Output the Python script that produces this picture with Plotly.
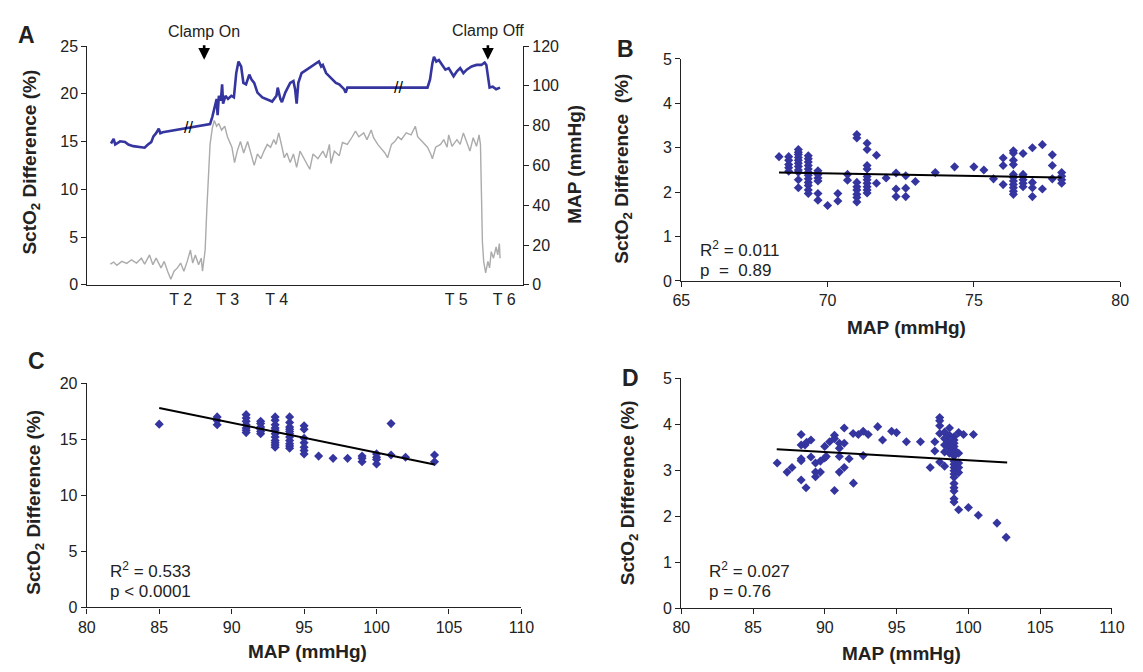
import plotly.graph_objects as go

# ---------------- Panel A data (time index, arbitrary units) ----------------
t_map = [24, 26.7, 28.3, 33.3, 38.3, 41.7, 46.7, 53.3, 58.3, 61.7, 65, 67.3, 70, 72.7, 74.3, 76.7,
         125, 127.3, 130, 131.7, 132.7, 134, 136, 137.3, 138.3, 140.7, 143.3, 146.7, 149.3, 151.7,
         154, 156.7, 159, 161.7, 165, 167.3, 170, 173.3, 178.3, 183.3, 188.3, 192.7, 194, 196.7,
         198.3, 201.7, 206.7, 210, 211.7, 213.3, 215, 218.3, 223.3, 228.3, 233.3, 236, 238.3, 240,
         243.3, 246.7, 250, 253.3, 256.7, 260, 261.7, 263.3, 265,
         346.7, 349.3, 351.7, 353.3, 355.7, 358.3, 361.7, 365, 368.3, 373.3, 376.7, 380, 383.3,
         386.7, 391.7, 396.7, 401.7, 405, 406.7, 410, 413.3, 416.7, 420.7]
map_vals = [71.0, 73.3, 70.5, 72.1, 71.8, 70.5, 69.7, 69.4, 68.9, 70.5, 71.7, 74.6, 76.2, 78.4, 76.2, 76.7,
            80.8, 84.4, 89.3, 93.4, 85.2, 95.0, 92.6, 100.7, 91.0, 95.0, 93.4, 95.0, 94.2, 106.4,
            112.2, 109.7, 101.5, 100.7, 105.6, 103.2, 101.5, 96.6, 94.2, 93.1, 92.1, 95.0, 99.1, 93.4,
            91.8, 96.6, 101.5, 102.4, 98.3, 91.0, 101.5, 106.4, 108.1, 109.7, 111.7, 112.2, 109.7, 110.5,
            106.4, 104.8, 103.2, 101.5, 100.7, 99.1, 98.3, 96.6, 99.1,
            99.1, 103.2, 111.3, 114.6, 112.2, 113.0, 110.5, 108.1, 108.9, 104.8, 107.3, 108.9, 106.4,
            108.1, 109.7, 110.5, 110.5, 111.7, 110.5, 99.1, 99.6, 98.3, 99.1]

t_sct = [23.3, 26.7, 30, 35, 40, 45, 50, 55, 58.3, 63.3, 66.7, 70, 75, 78.3, 81.7, 85, 88.3, 91.7, 95,
         98.3, 101.7, 105, 107.3, 110, 113.3, 116, 117.3, 120, 121.7, 123.3, 125, 127.3, 129.3, 131.7,
         134, 136.7, 140, 142.7, 145, 147.3, 150, 152.7, 156, 159.3, 163.3, 166.7, 170, 173.3, 176.7,
         180, 183.3, 186.7, 190, 192.3, 195, 197.3, 200.7, 203.3, 206.7, 210, 213.3, 216.7, 221.7,
         226.7, 230, 235, 240, 243.3, 246.7, 248.3, 251.7, 256.7, 260, 265, 270, 273.3, 276.7, 281.7,
         285, 289.3, 291.7, 296, 300, 303.3, 306, 310, 313.3, 316.7, 320, 325, 330, 334.3, 336.7,
         341.7, 346.7, 350, 351.7, 355, 360, 363.3, 366.7, 368.3, 371.7, 376.7, 380, 383.3, 386.7,
         390, 393.3, 396.7, 399.3, 400.7, 401.7, 402.7, 404, 406, 408.3, 410, 411.7, 414, 416.7,
         418.3, 420, 420.7]
sct_vals = [2.17, 2.38, 2.04, 2.45, 2.24, 2.62, 2.28, 2.79, 2.17, 3.13, 2.11, 2.79, 1.77, 2.45, 1.43, 0.58,
            1.43, 1.77, 2.28, 1.43, 2.45, 3.64, 2.28, 3.13, 2.11, 2.79, 1.43, 3.64, 7.9, 11.3, 14.7, 16.4,
            17.2, 16.6, 16.9, 16.2, 16.6, 15.5, 14.9, 14.4, 12.8, 14.0, 15.0, 13.8, 15.0, 13.7, 12.5,
            13.7, 13.2, 14.0, 14.7, 14.4, 15.2, 14.7, 15.9, 14.9, 13.3, 13.8, 12.8, 13.7, 12.3, 14.0,
            13.0, 12.1, 13.7, 13.2, 14.0, 13.3, 14.7, 12.7, 14.0, 13.5, 14.9, 14.7, 15.5, 16.1, 15.5,
            15.9, 15.2, 16.2, 15.4, 14.7, 14.2, 13.8, 13.3, 14.7, 15.0, 15.5, 15.2, 15.9, 15.7, 16.6,
            15.5, 14.9, 14.4, 13.7, 13.2, 14.4, 14.7, 15.2, 14.4, 15.7, 14.5, 15.2, 14.7, 15.9, 14.9,
            14.0, 15.4, 14.5, 15.7, 14.7, 9.6, 4.5, 2.45, 1.26, 2.45, 1.77, 3.47, 2.79, 3.98, 3.13,
            4.32, 2.79]

t_tickvals = [95, 143, 193, 376, 425]
t_ticktext = ["T 2", "T 3", "T 4", "T 5", "T 6"]
clamp_t = [119, 408.3]
clamp_text = ["Clamp On", "Clamp Off"]
break_t = [103.3, 316.7]
break_map = [79.0, 99.1]

# ---------------- Panel B ----------------
b_map = [68.34,
         68.67, 68.67, 68.67, 68.67, 68.67,
         69.0, 69.0, 69.0, 69.0, 69.0, 69.0, 69.0, 69.0, 69.0, 69.0, 69.0,
         69.34, 69.34, 69.34, 69.34, 69.34, 69.34, 69.34, 69.34, 69.34, 69.34, 69.34, 69.34,
         69.67, 69.67, 69.67, 69.67, 69.67, 69.67,
         70.0, 70.35, 70.35, 70.68, 70.68,
         71.0, 71.0, 71.0, 71.0, 71.0, 71.0, 71.0, 71.0,
         71.35, 71.35, 71.35, 71.35, 71.35, 71.35, 71.35, 71.35, 71.35, 71.35,
         71.67, 71.67, 72.0, 72.34, 72.34, 72.34, 72.67, 72.67, 72.67,
         73.0, 73.68, 74.34, 75.0, 75.34, 75.67,
         76.0, 76.0, 76.0,
         76.35, 76.35, 76.35, 76.35, 76.35, 76.35, 76.35, 76.35, 76.35, 76.35, 76.35,
         76.68, 76.68, 76.68, 76.68, 76.68, 76.68,
         77.0, 77.0, 77.0, 77.0, 77.34, 77.34, 77.68, 77.68, 77.68,
         78.0, 78.0, 78.0, 78.0]
b_sct = [2.80,
         2.80, 2.72, 2.62, 2.55, 2.47,
         2.96, 2.90, 2.85, 2.78, 2.72, 2.65, 2.58, 2.50, 2.45, 2.28, 2.10,
         2.82, 2.75, 2.68, 2.60, 2.52, 2.45, 2.38, 2.30, 2.22, 2.15, 2.05, 1.97,
         2.48, 2.40, 2.32, 2.25, 1.97, 1.82,
         1.70, 1.97, 1.80, 2.40, 2.27,
         3.30, 3.22, 2.22, 2.12, 2.05, 1.95, 1.88, 1.78,
         3.10, 2.96, 2.60, 2.52, 2.35, 2.28, 2.20, 2.12, 2.05, 1.98,
         2.83, 2.20, 2.32, 2.43, 2.07, 1.90, 2.37, 2.09, 1.90,
         2.24, 2.44, 2.57, 2.57, 2.50, 2.30,
         2.77, 2.60, 2.17,
         2.93, 2.88, 2.72, 2.62, 2.40, 2.33, 2.25, 2.17, 2.10, 2.02, 1.95,
         2.87, 2.40, 2.35, 2.28, 2.20, 2.12,
         3.00, 2.22, 2.10, 1.90, 3.07, 2.07, 2.84, 2.60, 2.30,
         2.44, 2.36, 2.28, 2.20]
b_fit_x = [68.34, 78.0]
b_fit_y = [2.44, 2.33]

# ---------------- Panel C ----------------
c_map = [85,
         89, 89, 89,
         91, 91, 91, 91, 91, 91, 91,
         92, 92, 92, 92, 92, 92,
         93, 93, 93, 93, 93, 93, 93, 93, 93, 93, 93,
         94, 94, 94, 94, 94, 94, 94, 94, 94, 94, 94,
         95, 95, 95, 95, 95, 95, 95,
         96, 97, 98, 99, 99, 99, 100, 100, 100, 100, 101, 101, 102, 104, 104]
c_sct = [16.35,
         17.0, 16.67, 16.3,
         17.2, 16.9, 16.6, 16.3, 16.0, 15.8, 15.6,
         16.6, 16.4, 16.1, 15.9, 15.7, 15.5,
         17.0, 16.7, 16.3, 16.0, 15.8, 15.5, 15.2, 14.9, 14.7, 14.5, 14.3,
         17.0, 16.5, 16.1, 15.9, 15.7, 15.5, 15.2, 14.9, 14.6, 14.4, 14.2,
         16.2, 15.9, 15.1, 14.7, 14.3, 14.0, 13.7,
         13.5, 13.3, 13.3, 13.5, 13.3, 13.0, 13.7, 13.4, 13.2, 12.8, 16.4, 13.6, 13.4, 13.6, 13.0]
c_fit_x = [85, 104]
c_fit_y = [17.8, 12.75]

# ---------------- Panel D ----------------
d_map = [86.68, 87.37, 87.71, 88.35, 88.35, 88.62, 88.73, 89.03, 88.35, 88.35, 89.03, 88.35, 88.69,
         89.35, 89.35, 89.35, 89.69, 89.69, 89.99, 89.99, 90.33, 90.67, 90.67, 90.1, 91.01, 91.01,
         91.01, 91.35, 91.69, 91.35, 91.01, 90.67, 91.35, 91.99, 91.97, 92.33, 92.67, 93.02, 92.67,
         93.68, 94.02, 94.65, 94.99, 95.68, 96.66, 97.34, 97.66, 97.66, 98.0, 98.0, 98.0, 98.0, 98.0,
         98.34, 98.34, 98.68, 98.34, 98.34, 98.34, 98.68, 98.68, 98.68, 98.68,
         99.0, 99.0, 99.0, 99.0, 99.0, 99.0, 99.0, 99.0, 99.0, 99.0, 99.0, 99.0, 99.0, 99.0, 99.0,
         99.0, 99.0, 99.0,
         99.32, 99.32, 99.32, 99.32, 99.32, 99.32, 99.66, 100.0, 100.35, 100.69, 101.99, 102.63]
d_sct = [3.16, 2.96, 3.06, 3.78, 3.55, 3.55, 3.61, 3.66, 3.25, 3.21, 3.29, 2.79, 2.62,
         3.16, 2.96, 2.86, 2.96, 3.20, 3.27, 3.52, 3.62, 3.76, 3.69, 3.30, 3.59, 3.48,
         3.30, 3.59, 3.25, 3.06, 2.96, 2.56, 3.92, 2.72, 3.80, 3.78, 3.85, 3.78, 3.32,
         3.95, 3.66, 3.85, 3.82, 3.62, 3.62, 3.06, 3.62, 3.42, 4.15, 4.08, 3.97, 3.80, 3.18,
         3.09, 3.83, 3.92, 3.69, 3.55, 3.40, 3.76, 3.62, 3.48, 3.37,
         3.73, 3.66, 3.59, 3.52, 3.45, 3.38, 3.31, 3.20, 3.13, 3.06, 2.99, 2.92, 2.85, 2.71, 2.62,
         2.55, 2.38, 2.31,
         3.82, 3.37, 3.16, 3.06, 2.95, 2.14, 3.78, 2.19, 3.78, 2.02, 1.85, 1.54]
d_fit_x = [86.65, 102.7]
d_fit_y = [3.46, 3.17]

# ---------------- figure ----------------
W, H = 1143, 672
FONT = "Liberation Sans, Arial, Helvetica, sans-serif"
INK = "#222222"
BLUE = "#35359f"
GRAY = "#ababab"


def px(x):
    return x / W


def py(y):
    return 1 - y / H


fig = go.Figure()

fig.add_trace(go.Scatter(x=t_sct, y=sct_vals, mode="lines", line=dict(color=GRAY, width=1.4),
                         xaxis="x", yaxis="y", showlegend=False))
fig.add_trace(go.Scatter(x=t_map, y=map_vals, mode="lines", line=dict(color=BLUE, width=2.6),
                         xaxis="x", yaxis="y2", showlegend=False))

marker = dict(symbol="diamond", size=7, color=BLUE)
for xs, ys, fx, fy, ax, ay in [(b_map, b_sct, b_fit_x, b_fit_y, "x3", "y3"),
                               (c_map, c_sct, c_fit_x, c_fit_y, "x4", "y4"),
                               (d_map, d_sct, d_fit_x, d_fit_y, "x5", "y5")]:
    fig.add_trace(go.Scatter(x=xs, y=ys, mode="markers", marker=marker,
                             xaxis=ax, yaxis=ay, showlegend=False))
    fig.add_trace(go.Scatter(x=fx, y=fy, mode="lines", line=dict(color="black", width=2),
                             xaxis=ax, yaxis=ay, showlegend=False))

base = dict(showline=True, linecolor=INK, linewidth=1.3, ticks="outside", ticklen=5, tickwidth=1.3,
            tickcolor=INK, showgrid=False, zeroline=False,
            tickfont=dict(family=FONT, size=16, color=INK))

layout = dict(
    width=W, height=H, margin=dict(l=0, r=0, t=0, b=0),
    paper_bgcolor="white", plot_bgcolor="white", showlegend=False,
    xaxis=dict(base, domain=[px(80), px(524)], range=[0, 444], anchor="y",
               tickvals=t_tickvals, ticktext=t_ticktext, ticks=""),
    yaxis=dict(base, domain=[py(284), py(39)], range=[0, 25], tick0=0, dtick=5, anchor="x"),
    yaxis2=dict(base, overlaying="y", side="right", anchor="x", range=[0, 120], tick0=0, dtick=20),
    xaxis3=dict(base, domain=[px(685.5), px(1133)], range=[65, 80], tick0=65, dtick=5, anchor="y3"),
    yaxis3=dict(base, domain=[py(280), py(52.3)], range=[0, 5], tick0=0, dtick=1, anchor="x3"),
    xaxis4=dict(base, domain=[px(79.3), px(522.5)], range=[80, 110], tick0=80, dtick=5, anchor="y4"),
    yaxis4=dict(base, domain=[py(615), py(385)], range=[0, 20], tick0=0, dtick=5, anchor="x4"),
    xaxis5=dict(base, domain=[px(685.5), px(1124.6)], range=[80, 110], tick0=80, dtick=5, anchor="y5"),
    yaxis5=dict(base, domain=[py(615.7), py(380)], range=[0, 5], tick0=0, dtick=1, anchor="x5"),
)
fig.update_layout(**layout)

ann = []


def txt(x, y, s, size=16, bold=False, angle=0, xanchor="center"):
    ann.append(dict(x=px(x), y=py(y), xref="paper", yref="paper", text=(f"<b>{s}</b>" if bold else s),
                    showarrow=False, textangle=angle, xanchor=xanchor, yanchor="middle",
                    font=dict(family=FONT, size=size, color=INK)))


# panel letters
txt(18, 28, "A", 23, True)
txt(629, 42, "B", 23, True)
txt(28, 362, "C", 23, True)
txt(634, 380, "D", 23, True)

sct_title = "SctO<sub>2</sub> Difference (%)"
# axis titles
txt(22, 158, sct_title, 19, True, -90)
txt(577, 160, "MAP (mmHg)", 19, True, -90)
txt(626, 165, "SctO<sub>2</sub> Difference\u00a0\u00a0(%)", 19, True, -90)
txt(915, 328, "MAP (mmHg)", 19, True)
txt(27, 507, sct_title, 19, True, -90)
txt(304, 660, "MAP (mmHg)", 19, True)
txt(633, 497, sct_title, 19, True, -90)
txt(910, 662, "MAP (mmHg)", 19, True)

# statistics
txt(703, 247, "R<sup>2</sup> = 0.011", 17, xanchor="left")
txt(703, 269, "p\u00a0\u00a0=\u00a0\u00a00.89", 17, xanchor="left")
txt(101, 577, "R<sup>2</sup> = 0.533", 17, xanchor="left")
txt(101, 599, "p &lt; 0.0001", 17, xanchor="left")
txt(712, 577, "R<sup>2</sup> = 0.027", 17, xanchor="left")
txt(712, 599, "p = 0.76", 17, xanchor="left")

# clamp labels and arrows
for t, label, ty in zip(clamp_t, clamp_text, [24, 23]):
    ann.append(dict(x=t, y=py(ty), xref="x", yref="paper", text=label, showarrow=False,
                    xanchor="center", yanchor="middle", font=dict(family=FONT, size=16, color=INK)))
    ann.append(dict(x=t, y=py(53), xref="x", yref="paper", text="", showarrow=True,
                    ax=0, ay=-16, axref="pixel", ayref="pixel", arrowhead=2, arrowsize=0.9,
                    arrowwidth=2.6, arrowcolor="black", standoff=0))

# axis break marks
for t, m in zip(break_t, break_map):
    ann.append(dict(x=t, y=m, xref="x", yref="y2", text="//", showarrow=False,
                    xanchor="center", yanchor="middle", font=dict(family=FONT, size=16, color="black")))

fig.update_layout(annotations=ann)
fig.write_html("out.html", config={"displayModeBar": False},
               post_script="document.body.style.margin='0px';document.body.style.overflow='hidden';")
